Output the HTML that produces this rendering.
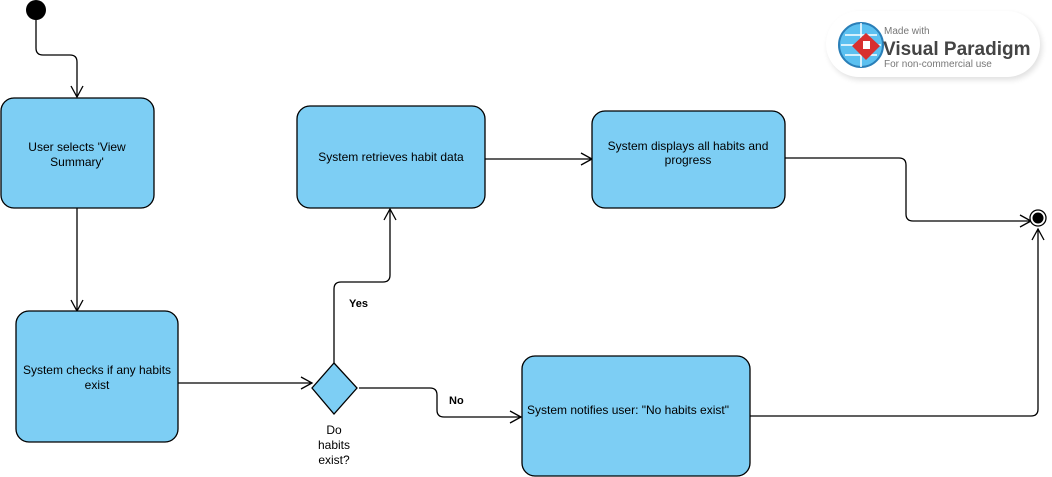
<!DOCTYPE html>
<html><head><meta charset="utf-8"><style>
html,body{margin:0;padding:0;background:#fff;}
svg{display:block;font-family:"Liberation Sans",Arial,sans-serif;}
</style></head><body>
<svg width="1052" height="477" viewBox="0 0 1052 477" xmlns="http://www.w3.org/2000/svg">
<defs>
<filter id="sh" x="-20%" y="-40%" width="140%" height="180%"><feGaussianBlur stdDeviation="3"/></filter>
</defs>
<!-- logo -->
<rect x="828" y="14" width="214" height="66" rx="33" fill="#000" opacity="0.12" filter="url(#sh)"/>
<rect x="826" y="11" width="214" height="66" rx="33" fill="#fff"/>
<circle cx="861" cy="45" r="22" fill="#5bc0f0" stroke="#2a7fb8" stroke-width="2"/>
<path d="M845 35 h32 M841 45 h40 M845 55 h32 M861 23 v44" stroke="#fff" stroke-width="1.5" fill="none"/>
<polygon points="866,33 880,46 866,60 852,46" fill="#d8302f"/>
<rect x="863" y="41" width="7" height="8" fill="#fff"/>
<text x="884" y="34" font-size="10" fill="#777">Made with</text>
<text x="883" y="55" font-size="19" font-weight="bold" fill="#444">Visual Paradigm</text>
<text x="884" y="67" font-size="10" fill="#777">For non-commercial use</text>

<g stroke="#000" stroke-width="1.3" fill="none">
<!-- start -->
<path d="M36 10 V48 Q36 55 43 55 H70 Q77 55 77 62 V97"/>
<path d="M71 86 L77 97 L83 86"/>
<!-- box1 -> box2 -->
<path d="M77 208 V311"/><path d="M71 300 L77 311 L83 300"/>
<!-- box2 -> diamond -->
<path d="M178 383 H312"/><path d="M301 377 L312 383 L301 389"/>
<!-- yes -->
<path d="M334 363 V289 Q334 282 341 282 H383 Q390 282 390 275 V209"/>
<path d="M384 220 L390 209 L396 220"/>
<!-- no -->
<path d="M359 388 H430 Q437 388 437 395 V410 Q437 417 444 417 H521"/>
<path d="M510 411 L521 417 L510 423"/>
<!-- box3 -> box4 -->
<path d="M485 159 H592"/><path d="M581 153 L592 159 L581 165"/>
<!-- box4 -> final -->
<path d="M785 158 H899 Q906 158 906 165 V214 Q906 221 913 221 H1031"/>
<path d="M1020 215 L1031 221 L1020 227"/>
<!-- box5 -> final -->
<path d="M750 416 H1031 Q1038 416 1038 409 V229"/>
<path d="M1032 240 L1038 229 L1044 240"/>
</g>
<circle cx="36" cy="10" r="10" fill="#000"/>
<circle cx="1038" cy="218" r="8" fill="#fff" stroke="#000" stroke-width="1.3"/>
<circle cx="1038" cy="218" r="5.5" fill="#000"/>

<g fill="#7dcef4" stroke="#000" stroke-width="1.3">
<rect x="1" y="98" width="153" height="110" rx="13"/>
<rect x="16" y="311" width="162" height="131" rx="13"/>
<rect x="297" y="106" width="188" height="102" rx="13"/>
<rect x="592" y="111" width="193" height="97" rx="13"/>
<rect x="522" y="356" width="228" height="120" rx="13"/>
<polygon points="334,363 357,388 334,414 312,388"/>
</g>
<g font-size="12" fill="#000" text-anchor="middle">
<text x="77" y="151">User selects 'View</text>
<text x="77" y="166">Summary'</text>
<text x="97" y="374">System checks if any habits</text>
<text x="97" y="389">exist</text>
<text x="391" y="161">System retrieves habit data</text>
<text x="688" y="150">System displays all habits and</text>
<text x="688" y="164">progress</text>
<text x="628" y="414">System notifies user: "No habits exist"</text>
<text x="334" y="434">Do</text>
<text x="334" y="449">habits</text>
<text x="334" y="464">exist?</text>
</g>
<text x="349" y="307" font-size="11" font-weight="bold">Yes</text>
<text x="449" y="404" font-size="11" font-weight="bold">No</text>
</svg>
</body></html>
